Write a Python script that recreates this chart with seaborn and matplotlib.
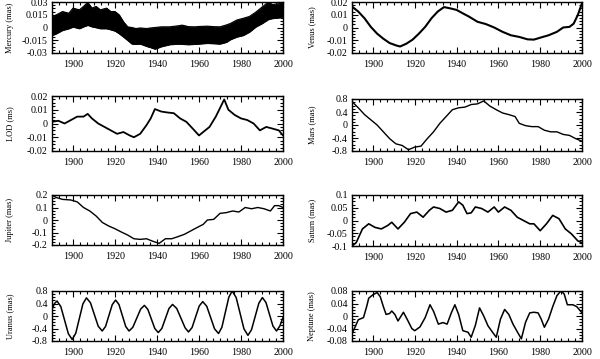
import matplotlib
matplotlib.use("Agg")
import matplotlib.pyplot as plt
import seaborn as sns
from matplotlib.ticker import FixedLocator, FixedFormatter, AutoMinorLocator

# ---------------- data ----------------
x_ticks = [1900, 1920, 1940, 1960, 1980, 2000]
x_labels = ["1900", "1920", "1940", "1960", "1980", "2000"]

merc_years = [1890, 1892, 1895, 1898, 1900, 1903, 1905, 1907, 1909, 1911, 1913, 1916, 1918, 1920,
              1922, 1924, 1926, 1928, 1930, 1932, 1935, 1937, 1939, 1942, 1946, 1950, 1952, 1955,
              1958, 1960, 1964, 1967, 1970, 1973, 1975, 1978, 1981, 1984, 1987, 1990, 1993, 1995,
              1998, 2000]
merc_upper = [0.0128, 0.0148, 0.0188, 0.0168, 0.0228, 0.0208, 0.0248, 0.0296, 0.0228, 0.0248,
              0.0208, 0.0228, 0.0188, 0.0188, 0.0148, 0.0068, 0.0008, 0.0000, -0.0012, -0.0005,
              -0.0012, -0.0005, 0.0000, 0.0008, 0.0008, 0.0020, 0.0028, 0.0010, 0.0008, 0.0012,
              0.0016, 0.0010, 0.0008, 0.0030, 0.0048, 0.0088, 0.0108, 0.0130, 0.0180, 0.0240,
              0.0300, 0.0270, 0.0280, 0.0288]
merc_lower = [-0.0092, -0.0072, -0.0032, -0.0012, 0.0008, -0.0012, 0.0010, 0.0028, 0.0010, 0.0000,
              -0.0012, -0.0012, -0.0025, -0.0040, -0.0072, -0.0110, -0.0150, -0.0192, -0.0195,
              -0.0192, -0.0220, -0.0235, -0.0252, -0.0224, -0.0200, -0.0192, -0.0195, -0.0200,
              -0.0195, -0.0192, -0.0184, -0.0188, -0.0192, -0.0172, -0.0140, -0.0110, -0.0092,
              -0.0052, 0.0008, 0.0048, 0.0096, 0.0108, 0.0115, 0.0128]

venus_years = [1890, 1893, 1896, 1899, 1902, 1905, 1908, 1911, 1913, 1916, 1919, 1922, 1925, 1928,
               1931, 1934, 1937, 1940, 1943, 1946, 1950, 1954, 1958, 1962, 1966, 1970, 1974, 1977,
               1980, 1984, 1988, 1991, 1994, 1996, 1998, 2000]
venus_vals = [0.0164, 0.0125, 0.0072, 0.0005, -0.0048, -0.0088, -0.0122, -0.0140, -0.0149, -0.0127,
              -0.0095, -0.0048, 0.0005, 0.0072, 0.0125, 0.0160, 0.0150, 0.0138, 0.0111, 0.0085,
              0.0045, 0.0027, 0.0000, -0.0034, -0.0061, -0.0074, -0.0093, -0.0095, -0.0080, -0.0061,
              -0.0034, 0.0000, 0.0005, 0.0030, 0.0098, 0.0190]

lod_years = [1890, 1893, 1896, 1899, 1902, 1905, 1907, 1909, 1912, 1915, 1918, 1921, 1924, 1927,
             1929, 1932, 1935, 1937, 1939, 1942, 1945, 1948, 1951, 1954, 1957, 1960, 1962, 1965,
             1968, 1970, 1972, 1974, 1977, 1980, 1983, 1986, 1989, 1992, 1995, 1998, 2000]
lod_vals = [0.0012, 0.0020, 0.0000, 0.0025, 0.0050, 0.0050, 0.0070, 0.0037, 0.0000, -0.0025,
            -0.0050, -0.0075, -0.0062, -0.0087, -0.0100, -0.0075, -0.0012, 0.0037, 0.0105, 0.0087,
            0.0080, 0.0075, 0.0037, 0.0012, -0.0037, -0.0087, -0.0062, -0.0025, 0.0050, 0.0112,
            0.0175, 0.0100, 0.0062, 0.0037, 0.0025, 0.0000, -0.0050, -0.0025, -0.0037, -0.0050,
            -0.0087]

mars_years = [1890, 1893, 1896, 1899, 1902, 1905, 1908, 1911, 1914, 1917, 1920, 1923, 1926, 1929,
              1932, 1935, 1938, 1941, 1944, 1947, 1950, 1953, 1956, 1959, 1962, 1965, 1968, 1970,
              1973, 1976, 1979, 1982, 1985, 1988, 1991, 1994, 1997, 2000]
mars_vals = [0.72, 0.53, 0.32, 0.16, 0.00, -0.21, -0.42, -0.58, -0.63, -0.76, -0.68, -0.65, -0.42,
             -0.21, 0.05, 0.26, 0.47, 0.53, 0.55, 0.63, 0.65, 0.74, 0.58, 0.47, 0.37, 0.32, 0.26,
             0.05, -0.02, -0.05, -0.05, -0.16, -0.21, -0.21, -0.29, -0.32, -0.42, -0.50]

jup_years = [1890, 1892, 1895, 1899, 1902, 1905, 1908, 1911, 1914, 1917, 1920, 1923, 1926, 1929,
             1932, 1935, 1938, 1941, 1944, 1947, 1950, 1953, 1956, 1959, 1962, 1964, 1967, 1970,
             1973, 1976, 1979, 1982, 1985, 1988, 1991, 1994, 1996, 1998, 2000]
jup_vals = [0.200, 0.180, 0.165, 0.160, 0.145, 0.100, 0.072, 0.032, -0.020, -0.048, -0.070, -0.096,
            -0.120, -0.150, -0.155, -0.150, -0.170, -0.187, -0.150, -0.150, -0.133, -0.115, -0.088,
            -0.061, -0.035, 0.000, 0.005, 0.053, 0.059, 0.072, 0.064, 0.100, 0.090, 0.100, 0.090,
            0.072, 0.115, 0.115, 0.100]

sat_years = [1890, 1892, 1895, 1898, 1901, 1904, 1907, 1909, 1912, 1915, 1918, 1921, 1924, 1927,
             1929, 1932, 1935, 1938, 1941, 1943, 1945, 1947, 1949, 1952, 1955, 1958, 1960, 1963,
             1966, 1969, 1972, 1975, 1977, 1980, 1983, 1986, 1989, 1992, 1995, 1998, 2000]
sat_vals = [-0.100, -0.087, -0.033, -0.013, -0.027, -0.033, -0.020, -0.007, -0.033, -0.007, 0.027,
            0.033, 0.013, 0.040, 0.053, 0.047, 0.033, 0.040, 0.073, 0.060, 0.027, 0.030, 0.053,
            0.047, 0.033, 0.053, 0.033, 0.053, 0.040, 0.013, 0.000, -0.013, -0.013, -0.040, -0.013,
            0.020, 0.007, -0.033, -0.053, -0.080, -0.087]

ura_years = [1890.0, 1891.2, 1892.4, 1894.2, 1896.0, 1897.8, 1899.6, 1901.3, 1903.0, 1904.7, 1906.4,
             1908.3, 1910.15, 1912.0, 1913.9, 1915.5, 1917.1, 1918.7, 1920.3, 1921.9, 1923.5, 1925.1,
             1926.7, 1928.5, 1930.35, 1932.2, 1934.0, 1935.65, 1937.3, 1938.95, 1940.6, 1942.3,
             1944.0, 1945.7, 1947.4, 1949.4, 1951.4, 1953.4, 1955.0, 1956.7, 1958.4, 1960.1, 1961.8,
             1963.7, 1965.55, 1967.4, 1969.3, 1970.9, 1972.55, 1974.2, 1975.8, 1977.7, 1979.55,
             1981.4, 1983.3, 1985.0, 1986.75, 1988.5, 1990.2, 1991.9, 1993.55, 1995.2, 1996.9,
             1998.5, 2000.0]
ura_vals = [0.21, 0.40, 0.48, 0.30, -0.135, -0.57, -0.75, -0.555, -0.085, 0.385, 0.58, 0.425, 0.05,
            -0.325, -0.48, -0.335, 0.015, 0.365, 0.51, 0.365, 0.015, -0.335, -0.48, -0.36, -0.07,
            0.22, 0.34, 0.21, -0.095, -0.40, -0.53, -0.40, -0.08, 0.24, 0.37, 0.24, -0.07, -0.38,
            -0.51, -0.37, -0.025, 0.32, 0.46, 0.31, -0.05, -0.41, -0.56, -0.36, 0.12, 0.60, 0.80,
            0.59, 0.09, -0.41, -0.62, -0.44, -0.015, 0.41, 0.59, 0.43, 0.055, -0.32, -0.48, -0.32,
            -0.05]

nep_years = [1890.0, 1891.5, 1893.0, 1895.5, 1897.0, 1898.0, 1900.0, 1902.0, 1903.5, 1905.0, 1906.3,
             1908.0, 1909.0, 1910.5, 1912.0, 1914.6, 1916.5, 1918.6, 1920.0, 1922.5, 1925.0, 1927.3,
             1929.0, 1931.3, 1933.5, 1935.5, 1937.5, 1939.2, 1941.0, 1943.0, 1945.5, 1947.0, 1949.0,
             1951.0, 1953.0, 1955.0, 1957.0, 1959.0, 1961.0, 1963.0, 1965.0, 1967.0, 1969.0, 1971.0,
             1973.0, 1975.0, 1977.0, 1979.0, 1980.5, 1982.0, 1984.0, 1986.0, 1988.0, 1990.0, 1991.5,
             1993.0, 1995.6, 1997.5, 2000.0]
nep_vals = [-0.057, -0.035, -0.012, -0.005, 0.030, 0.057, 0.068, 0.075, 0.062, 0.030, 0.005, 0.008,
            0.016, 0.005, -0.016, 0.012, -0.012, -0.040, -0.047, -0.035, -0.005, 0.036, 0.015,
            -0.026, -0.021, -0.026, 0.010, 0.036, 0.005, -0.047, -0.052, -0.068, -0.030, 0.026,
            0.000, -0.031, -0.050, -0.068, -0.010, 0.021, 0.005, -0.026, -0.050, -0.073, -0.020,
            0.010, 0.012, 0.010, -0.010, -0.036, -0.010, 0.030, 0.065, 0.081, 0.070, 0.036, 0.036,
            0.030, 0.010]

# y tick values and labels per panel
merc_yt = [-0.03, -0.015, 0, 0.015, 0.03]
merc_yl = ["-0.03", "-0.015", "0", "0.015", "0.03"]
venus_yt = [-0.02, -0.01, 0, 0.01, 0.02]
venus_yl = ["-0.02", "-0.01", "0", "0.01", "0.02"]
lod_yt = [-0.02, -0.01, 0, 0.01, 0.02]
lod_yl = ["-0.02", "-0.01", "0", "0.01", "0.02"]
mars_yt = [-0.8, -0.4, 0, 0.4, 0.8]
mars_yl = ["-0.8", "-0.4", "0", "0.4", "0.8"]
jup_yt = [-0.2, -0.1, 0, 0.1, 0.2]
jup_yl = ["-0.2", "-0.1", "0", "0.1", "0.2"]
sat_yt = [-0.1, -0.05, 0, 0.05, 0.1]
sat_yl = ["-0.1", "-0.05", "0", "0.05", "0.1"]
ura_yt = [-0.8, -0.4, 0, 0.4, 0.8]
ura_yl = ["-0.8", "-0.4", "0", "0.4", "0.8"]
nep_yt = [-0.08, -0.04, 0, 0.04, 0.08]
nep_yl = ["-0.08", "-0.04", "0", "0.04", "0.08"]

# ---------------- style ----------------
sns.set_theme(style="ticks")
plt.rcParams['font.family'] = ['Liberation Serif', 'DejaVu Serif']
plt.rcParams['axes.unicode_minus'] = False

W, H = 600, 359
fig = plt.figure(figsize=(6.0, 3.59), dpi=100)
fig.patch.set_facecolor("white")


def make_ax(x0, top, x1, bottom):
    return fig.add_axes([x0 / W, 1 - bottom / H, (x1 - x0) / W, (bottom - top) / H])


def style(ax, yt, yl, label, lx):
    ax.set_xlim(1890, 2000)
    ax.set_ylim(yt[0], yt[-1])
    ax.xaxis.set_major_locator(FixedLocator(x_ticks))
    ax.xaxis.set_major_formatter(FixedFormatter(x_labels))
    ax.yaxis.set_major_locator(FixedLocator(yt))
    ax.yaxis.set_major_formatter(FixedFormatter(yl))
    ax.xaxis.set_minor_locator(AutoMinorLocator(6))
    ax.yaxis.set_minor_locator(AutoMinorLocator(4))
    ax.tick_params(which="both", direction="in", top=True, right=True, labelsize=7.2,
                   color="black", labelcolor="black", width=0.8)
    ax.tick_params(which="major", length=4, pad=3)
    ax.tick_params(which="minor", length=2)
    ax.tick_params(axis="x", which="major", pad=5)
    for s in ax.spines.values():
        s.set_linewidth(1.0)
        s.set_color("black")
        s.set_visible(True)
    ax.set_xlabel("")
    ax.set_ylabel(label, fontsize=6, color="black")
    ax.yaxis.set_label_coords(lx, 0.5)
    ax.set_facecolor("white")


# Mercury
ax = make_ax(52, 2, 283, 53)
ax.fill_between(merc_years, merc_lower, merc_upper, color="black", linewidth=0.6)
sns.lineplot(x=merc_years, y=merc_upper, ax=ax, color="black", linewidth=0.8)
sns.lineplot(x=merc_years, y=merc_lower, ax=ax, color="black", linewidth=0.8)
style(ax, merc_yt, merc_yl, "Mercury (mas)", -0.165)

# Venus
ax = make_ax(352, 2, 582, 53)
sns.lineplot(x=venus_years, y=venus_vals, ax=ax, color="black", linewidth=1.5)
style(ax, venus_yt, venus_yl, "Venus (mas)", -0.155)

# LOD
ax = make_ax(52, 96, 283, 151)
sns.lineplot(x=lod_years, y=lod_vals, ax=ax, color="black", linewidth=1.3)
style(ax, lod_yt, lod_yl, "LOD (ms)", -0.165)

# Mars
ax = make_ax(352, 99, 582, 151)
sns.lineplot(x=mars_years, y=mars_vals, ax=ax, color="black", linewidth=1.0)
style(ax, mars_yt, mars_yl, "Mars (mas)", -0.155)

# Jupiter
ax = make_ax(52, 195, 283, 245)
sns.lineplot(x=jup_years, y=jup_vals, ax=ax, color="black", linewidth=1.0)
style(ax, jup_yt, jup_yl, "Jupiter (mas)", -0.165)

# Saturn
ax = make_ax(352, 195, 582, 246)
sns.lineplot(x=sat_years, y=sat_vals, ax=ax, color="black", linewidth=1.2)
style(ax, sat_yt, sat_yl, "Saturn (mas)", -0.155)

# Uranus
ax = make_ax(52, 291, 283, 341)
sns.lineplot(x=ura_years, y=ura_vals, ax=ax, color="black", linewidth=1.1)
style(ax, ura_yt, ura_yl, "Uranus (mas)", -0.165)

# Neptune
ax = make_ax(352, 291, 582, 341)
sns.lineplot(x=nep_years, y=nep_vals, ax=ax, color="black", linewidth=1.1)
style(ax, nep_yt, nep_yl, "Neptune (mas)", -0.155)

fig.savefig("out.png", dpi=100, facecolor="white")
